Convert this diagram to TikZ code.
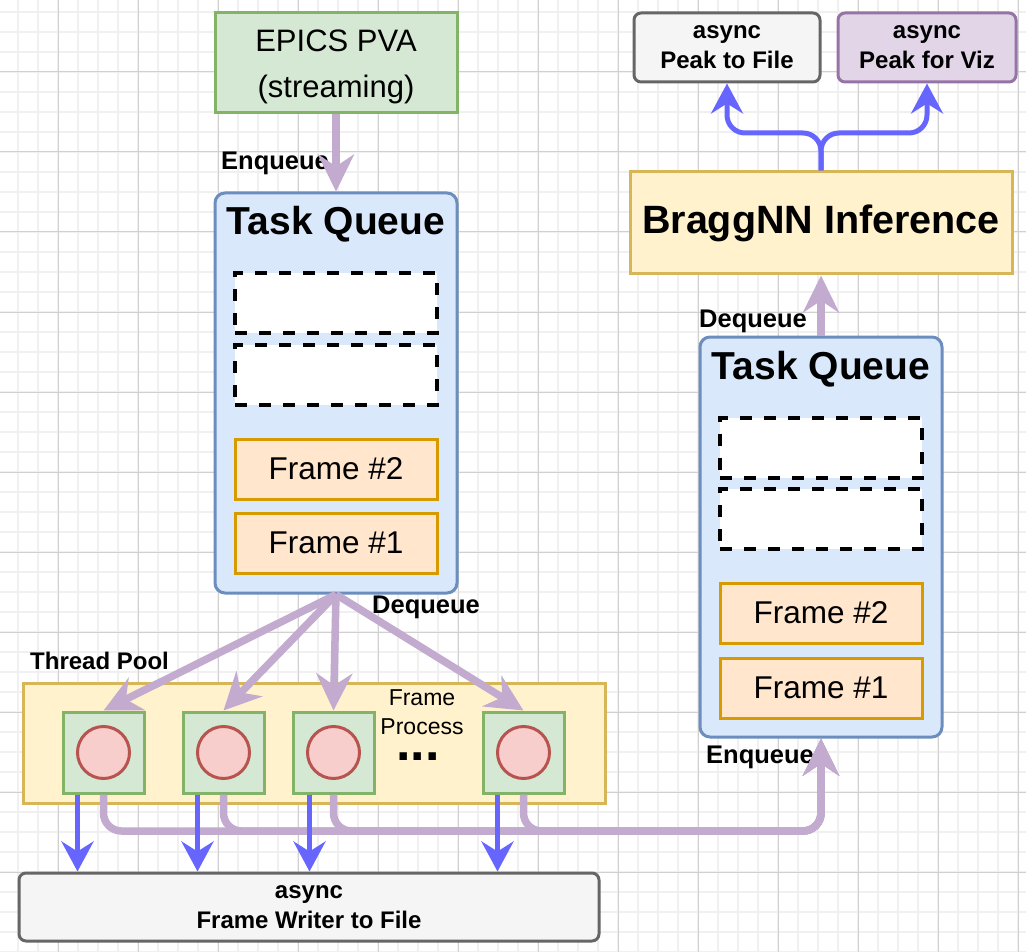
\documentclass[tikz,border=0pt]{standalone}
\usepackage{fontspec}
\setmainfont{Liberation Sans}
\usetikzlibrary{arrows.meta}
\definecolor{pur}{HTML}{C3ABD0}
\definecolor{blu}{HTML}{6666FF}
\definecolor{grnF}{HTML}{D5E8D4}\definecolor{grnS}{HTML}{82B366}
\definecolor{bluF}{HTML}{DAE8FC}\definecolor{bluS}{HTML}{6C8EBF}
\definecolor{orF}{HTML}{FFE6CC}\definecolor{orS}{HTML}{D79B00}
\definecolor{yelF}{HTML}{FFF2CC}\definecolor{yelS}{HTML}{D6B656}
\definecolor{redF}{HTML}{F8CECC}\definecolor{redS}{HTML}{B85450}
\definecolor{gryF}{HTML}{F5F5F5}\definecolor{gryS}{HTML}{666666}
\definecolor{viF}{HTML}{E1D5E7}\definecolor{viS}{HTML}{9673A6}
\definecolor{gridminor}{HTML}{F0F0F0}
\definecolor{gridmajor}{HTML}{D0D0D0}
\tikzset{
  minorgrid/.style={draw=gridminor, line width=1.5pt},
  majorgrid/.style={draw=gridmajor, line width=1pt},
  box/.style={line width=3pt, inner sep=0pt, align=center},
  greenbox/.style={box, draw=grnS, fill=grnF},
  queuebox/.style={box, draw=bluS, fill=bluF, rounded corners=10pt, minimum width=242pt, minimum height=400pt},
  slotbox/.style={box, draw=black, fill=white, line width=3.5pt, dash pattern=on 12pt off 12pt, minimum width=202pt, minimum height=60pt},
  framebox/.style={box, draw=orS, fill=orF, minimum width=202pt, minimum height=60pt, font=\fontsize{31.5}{36}\selectfont},
  yellowbox/.style={box, draw=yelS, fill=yelF},
  graybox/.style={box, draw=gryS, fill=gryF, rounded corners=7pt, font=\fontsize{24}{30}\selectfont\bfseries},
  violetbox/.style={box, draw=viS, fill=viF, rounded corners=7pt, font=\fontsize{24}{30}\selectfont\bfseries},
  worker/.style={box, draw=grnS, fill=grnF, minimum width=81pt, minimum height=81pt},
  proc/.style={circle, draw=redS, fill=redF, line width=3pt, minimum size=52pt, inner sep=0pt},
  lbl/.style={font=\fontsize{24}{30}\selectfont\bfseries, inner sep=0pt, anchor=base west},
  qlbl/.style={lbl, font=\fontsize{25.5}{30}\selectfont\bfseries},
  title/.style={font=\fontsize{39}{46}\selectfont\bfseries, inner sep=0pt, anchor=base},
  parr/.style={draw=pur, line width=7.5pt, -{Stealth[length=37pt,width=36pt,inset=12pt]}},
  pline/.style={draw=pur, line width=7.5pt, rounded corners=18pt, -{Stealth[length=37pt,width=36pt,inset=12pt]}},
  barr/.style={draw=blu, line width=5pt, rounded corners=18pt, -{Stealth[length=30pt,width=32pt,inset=10pt]}},
}
\begin{document}
\begin{tikzpicture}[x=1pt,y=-1pt]
\useasboundingbox (0,0) rectangle (1026,952);
\fill[white] (0,0) rectangle (1026,952);
% grid
\foreach \x in {18,38,...,1018} \draw[minorgrid] (\x,0) -- (\x,952);
\foreach \y in {12,32,...,952} \draw[minorgrid] (0,\y) -- (1026,\y);
\foreach \x in {58,138,...,1018} \draw[majorgrid] (\x,0) -- (\x,952);
\foreach \y in {72,152,...,952} \draw[majorgrid] (0,\y) -- (1026,\y);

% source
\node[greenbox, minimum width=242pt, minimum height=100pt, font=\fontsize{31}{46}\selectfont] (epics) at (336,63) {\rule{0pt}{34pt}EPICS PVA\\\rule[-11pt]{0pt}{11pt}(streaming)};

% left task queue
\node[queuebox] (q1) at (336,393) {};
\node[title] (q1t) at (336,235) {Task Queue};
\node[slotbox] (q1a) at (336,303) {};
\node[slotbox] (q1b) at (336,375) {};
\node[framebox] (q1f2) at (336,469) {Frame \#2};
\node[framebox] (q1f1) at (336,543) {Frame \#1};

% right task queue
\node[queuebox] (q2) at (821,537) {};
\node[title] (q2t) at (821,379) {Task Queue};
\node[slotbox] (q2a) at (821,448) {};
\node[slotbox] (q2b) at (821,519) {};
\node[framebox] (q2f2) at (821,613) {Frame \#2};
\node[framebox] (q2f1) at (821,688) {Frame \#1};

% inference and outputs
\node[yellowbox, minimum width=382pt, minimum height=102pt, font=\fontsize{39.5}{46}\selectfont\bfseries] (bragg) at (821,223) {BraggNN Inference};
\node[graybox, minimum width=186pt, minimum height=69pt] (peakfile) at (727,47.5) {\strut async\\\strut Peak to File};
\node[violetbox, minimum width=178pt, minimum height=69pt] (peakviz) at (927,47.5) {\strut async\\\strut Peak for Viz};

% thread pool
\node[yellowbox, minimum width=582pt, minimum height=120pt] (pool) at (314,743) {};
\node[worker] (s1) at (103.5,752.5) {};
\node[worker] (s2) at (223.5,752.5) {};
\node[worker] (s3) at (333.5,752.5) {};
\node[worker] (s4) at (523.5,752.5) {};
\node[proc] (c1) at (s1.center) {};
\node[proc] (c2) at (s2.center) {};
\node[proc] (c3) at (s3.center) {};
\node[proc] (c4) at (s4.center) {};
\node[inner sep=0pt, anchor=north, align=center, font=\fontsize{23}{29}\selectfont] (fp) at (422,689.5) {Frame\\Process};
\node[inner sep=0pt, anchor=base, font=\fontsize{52}{52}\selectfont\bfseries] (dots) at (418,760) {...};

% writer
\node[graybox, minimum width=580pt, minimum height=68pt] (writer) at (309,907) {\strut async\\\strut Frame Writer to File};

% labels
\node[qlbl] (enq1) at (221,170) {Enqueue};
\node[qlbl] (deq1) at (372,613) {Dequeue};
\node[lbl] (tpool) at (30,669) {Thread Pool};
\node[qlbl] (deq2) at (699,327) {Dequeue};
\node[qlbl] (enq2) at (706,763) {Enqueue};

% connectors
\draw[parr] (epics.south) -- (q1.north);
\draw[parr] (q1.south) -- (s1.north);
\draw[parr] (q1.south) -- (s2.north);
\draw[parr] (q1.south) -- (s3.north);
\draw[parr] (q1.south) -- (s4.north);

\coordinate (join) at (821,831);
\draw[pline] (s1.south) |- (join) -- (q2.south);
\draw[pline] (s2.south) |- (join) -- (q2.south);
\draw[pline] (s3.south) |- (join) -- (q2.south);
\draw[pline] (s4.south) |- (join) -- (q2.south);

\draw[barr] ([xshift=16pt]s1.south west) -- ([xshift=16pt]s1.south west |- writer.north);
\draw[barr] ([xshift=16pt]s2.south west) -- ([xshift=16pt]s2.south west |- writer.north);
\draw[barr] ([xshift=18pt]s3.south west) -- ([xshift=18pt]s3.south west |- writer.north);
\draw[barr] ([xshift=16pt]s4.south west) -- ([xshift=16pt]s4.south west |- writer.north);

\draw[parr] (q2.north) -- (bragg.south);
\coordinate (fork) at (821,133);
\draw[barr] (bragg.north) -- (fork) -| (peakfile.south);
\draw[barr] (bragg.north) -- (fork) -| (peakviz.south);
\end{tikzpicture}
\end{document}
